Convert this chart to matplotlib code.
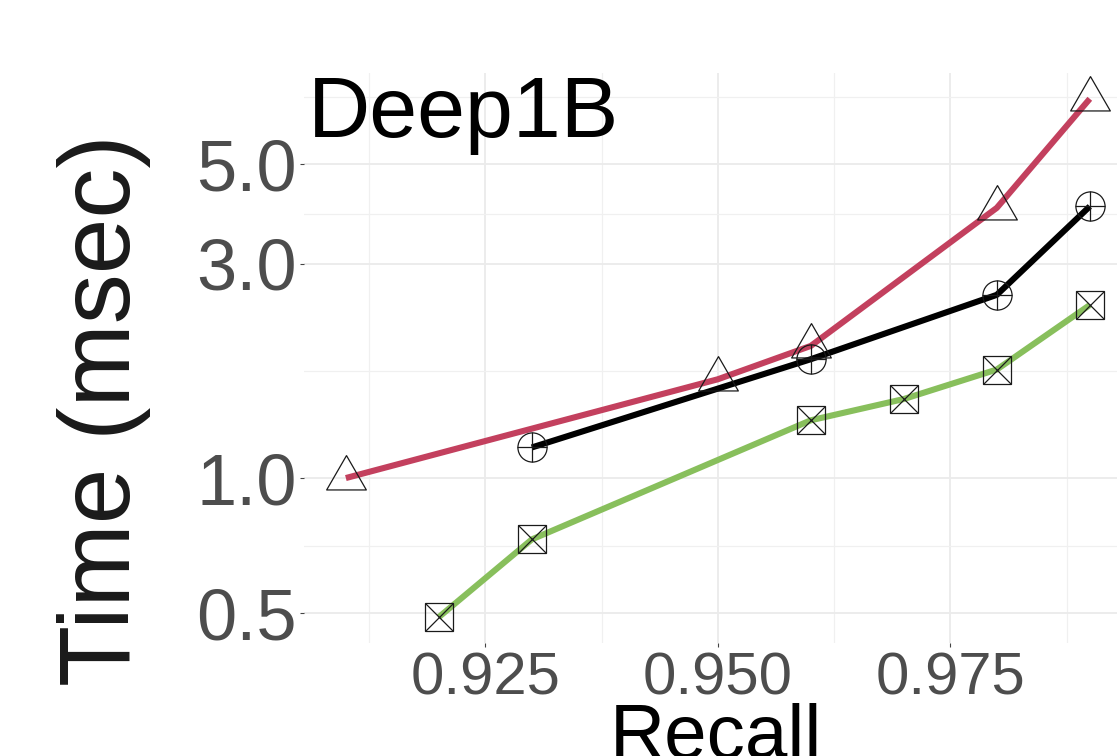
import matplotlib
matplotlib.use("Agg")
import matplotlib.pyplot as plt
from matplotlib.ticker import FixedLocator, FixedFormatter, NullFormatter

# ---------------- data ----------------
recall_tri = [0.91, 0.95, 0.96, 0.98, 0.99]
time_tri = [1.00, 1.66, 1.97, 4.00, 7.00]

recall_circ = [0.93, 0.96, 0.98, 0.99]
time_circ = [1.17, 1.84, 2.56, 4.03]

recall_sq = [0.92, 0.93, 0.96, 0.97, 0.98, 0.99]
time_sq = [0.49, 0.73, 1.345, 1.50, 1.745, 2.43]

x_ticks = [0.925, 0.950, 0.975]
x_tick_labels = ["0.925", "0.950", "0.975"]
x_minor = [0.9125, 0.9375, 0.9625, 0.9875]
y_ticks = [0.5, 1.0, 3.0, 5.0]
y_tick_labels = ["0.5", "1.0", "3.0", "5.0"]
y_minor = [0.7071, 1.7321, 3.873, 7.071]

panel_title = "Deep1B"
x_title = "Recall"
y_title = "Time (msec)"

# ---------------- style ----------------
RED = "#C3405E"
GREEN = "#88BF5C"
BLACK = "#000000"
EDGE = "#1a1a1a"
FONT = "Liberation Sans"
plt.rcParams["font.family"] = [FONT, "DejaVu Sans"]

W, H = 1117, 756
fig = plt.figure(figsize=(W / 100, H / 100), dpi=100)
fig.patch.set_facecolor("white")
ax = fig.add_axes([304 / W, 1 - 643 / H, (1127 - 304) / W, (643 - 73) / H])
ax.set_xlim(0.9055, 0.9940)
ax.set_yscale("log")
ax.set_ylim(0.429, 7.99)

for s in ax.spines.values():
    s.set_visible(False)

ax.xaxis.set_major_locator(FixedLocator(x_ticks))
ax.xaxis.set_major_formatter(FixedFormatter(x_tick_labels))
ax.xaxis.set_minor_locator(FixedLocator(x_minor))
ax.xaxis.set_minor_formatter(NullFormatter())
ax.yaxis.set_major_locator(FixedLocator(y_ticks))
ax.yaxis.set_major_formatter(FixedFormatter(y_tick_labels))
ax.yaxis.set_minor_locator(FixedLocator(y_minor))
ax.yaxis.set_minor_formatter(NullFormatter())

ax.grid(True, which="major", color="#EBEBEB", lw=1.3, zorder=0)
ax.grid(True, which="minor", color="#F0F0F0", lw=0.9, zorder=0)
ax.set_axisbelow(True)

ax.tick_params(which="major", length=3, width=0.8, color="#444444",
               labelcolor="#4D4D4D")
ax.tick_params(which="minor", length=0)
ax.tick_params(axis="x", labelsize=43, pad=3)
ax.tick_params(axis="y", labelsize=52, pad=2)

# lines
ax.plot(recall_tri, time_tri, color=RED, lw=4.4, zorder=3,
        solid_capstyle="butt", solid_joinstyle="round")
ax.plot(recall_circ, time_circ, color=BLACK, lw=4.4, zorder=3,
        solid_capstyle="butt", solid_joinstyle="round")
ax.plot(recall_sq, time_sq, color=GREEN, lw=4.4, zorder=3,
        solid_capstyle="butt", solid_joinstyle="round")

# markers
tri = [(0, 1), (-0.866, -0.5), (0.866, -0.5), (0, 1)]
ax.plot(recall_tri, time_tri, ls="none", marker=tri, ms=33, mfc="none",
        mec=EDGE, mew=0.9, zorder=5, clip_on=False)
for m in ["o", "+"]:
    ax.plot(recall_circ, time_circ, ls="none", marker=m, ms=21, mfc="none",
            mec=EDGE, mew=0.9, zorder=5, clip_on=False)
for m in ["s", "x"]:
    ax.plot(recall_sq, time_sq, ls="none", marker=m, ms=20.5, mfc="none",
            mec=EDGE, mew=0.9, zorder=5, clip_on=False)

# texts
fig.text(308 / W, 1 - 137 / H, panel_title, fontsize=62, color="black",
         ha="left", va="baseline")
ax.set_xlabel(x_title, fontsize=55, color="black")
ax.xaxis.set_label_coords(716 / W, 1 - 703 / H, transform=fig.transFigure)
ax.set_ylabel(y_title, fontsize=72, color="#1a1a1a", va="center")
ax.yaxis.set_label_coords(104 / W, 1 - 410 / H, transform=fig.transFigure)

fig.savefig("out.png", dpi=100)
